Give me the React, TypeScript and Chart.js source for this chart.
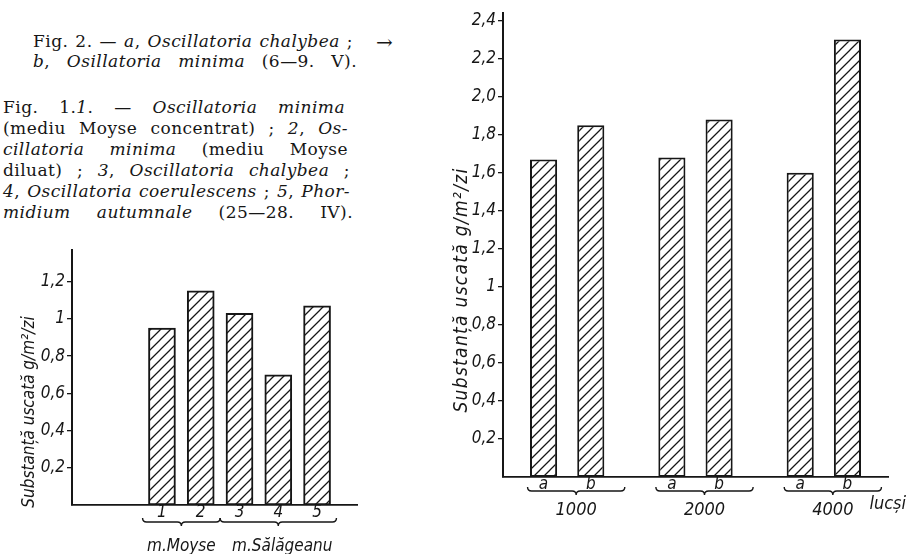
import React, { useEffect, useRef } from "react";
import { Chart, registerables } from "chart.js";

Chart.register(...registerables);

// ---------- data ----------
const leftCategories = ["1", "2", "3", "4", "5"];
const leftValues = [0.95, 1.15, 1.03, 0.7, 1.07];
const leftGroups = ["m.Moyse", "m.Sălăgeanu"];
const leftGroupSpans = [
  [1, 2],
  [3, 5],
];
const leftTicks = [0.2, 0.4, 0.6, 0.8, 1, 1.2];

const rightGroups = ["1000", "2000", "4000"];
const rightSeriesLabels = ["a", "b"];
const seriesA = [1.67, 1.68, 1.6];
const seriesB = [1.85, 1.88, 2.3];
const rightTicks = [0.2, 0.4, 0.6, 0.8, 1, 1.2, 1.4, 1.6, 1.8, 2.0, 2.2, 2.4];
const rightUnit = "lucși";
const yTitle = "Substanță uscată g/m²/zi";

// ---------- helpers ----------
const INK = "#161616";
const axisFont =
  '"Liberation Sans Narrow", "DejaVu Sans Condensed", "Roboto Condensed", sans-serif';

function fmtTick(v: number): string {
  if (v <= 0) return "";
  if (Math.abs(v - 1) < 1e-9) return "1";
  return v.toFixed(1).replace(".", ",");
}

function makeHatch(size: number): CanvasPattern | string {
  const c = document.createElement("canvas");
  c.width = size;
  c.height = size;
  const g = c.getContext("2d");
  if (!g) return "#fff";
  g.fillStyle = "#fff";
  g.fillRect(0, 0, size, size);
  g.strokeStyle = INK;
  g.lineWidth = 1.25;
  g.beginPath();
  g.moveTo(0, size);
  g.lineTo(size, 0);
  g.moveTo(-2, 2);
  g.lineTo(2, -2);
  g.moveTo(size - 2, size + 2);
  g.lineTo(size + 2, size - 2);
  g.stroke();
  return g.createPattern(c, "repeat") || "#fff";
}

function drawBrace(ctx: CanvasRenderingContext2D, x1: number, x2: number, y: number, h: number) {
  const xm = (x1 + x2) / 2;
  ctx.beginPath();
  ctx.moveTo(x1, y - h);
  ctx.quadraticCurveTo(x1, y, x1 + h, y);
  ctx.lineTo(xm - h, y);
  ctx.quadraticCurveTo(xm, y, xm, y + h);
  ctx.quadraticCurveTo(xm, y, xm + h, y);
  ctx.lineTo(x2 - h, y);
  ctx.quadraticCurveTo(x2, y, x2, y - h);
  ctx.stroke();
}

function drawVTitle(
  ctx: CanvasRenderingContext2D,
  text: string,
  x: number,
  y: number,
  font: string,
  spacing: string
) {
  ctx.save();
  ctx.translate(x, y);
  ctx.rotate(-Math.PI / 2);
  ctx.font = font;
  (ctx as any).letterSpacing = spacing;
  ctx.textAlign = "center";
  ctx.textBaseline = "middle";
  ctx.fillStyle = INK;
  ctx.fillText(text, 0, 0);
  ctx.restore();
}

// ---------- left chart ----------
function LeftChart() {
  const ref = useRef<HTMLCanvasElement>(null);
  useEffect(() => {
    const canvas = ref.current;
    if (!canvas) return;
    const hatch = makeHatch(10);
    const decor = {
      id: "leftDecor",
      afterDraw(chart: any) {
        const { ctx, chartArea, scales } = chart;
        const xs = scales.x;
        ctx.save();
        ctx.fillStyle = INK;
        ctx.strokeStyle = INK;
        ctx.font = `italic 17px ${axisFont}`;
        ctx.textAlign = "center";
        ctx.textBaseline = "middle";
        leftCategories.forEach((lab, i) => {
          ctx.fillText(lab, xs.getPixelForValue(i + 1), chartArea.bottom + 8);
        });
        ctx.lineWidth = 1.4;
        leftGroupSpans.forEach(([a, b], gi) => {
          const x1 = xs.getPixelForValue(a - 0.5);
          const x2 = xs.getPixelForValue(b + 0.5);
          drawBrace(ctx, x1, x2, chartArea.bottom + 17, 4);
          ctx.fillText(leftGroups[gi], (x1 + x2) / 2 + 4 * gi, chartArea.bottom + 42);
        });
        ctx.restore();
        drawVTitle(ctx, yTitle, 30, 182, `italic 17px ${axisFont}`, "0px");
      },
    };
    const chart = new Chart(canvas, {
      type: "bar",
      data: {
        datasets: [
          {
            data: leftValues.map((v, i) => ({ x: i + 1, y: v })),
            backgroundColor: hatch as any,
            borderColor: INK,
            borderWidth: 2,
            borderSkipped: false,
            barThickness: 27,
          },
        ],
      },
      options: {
        animation: false,
        responsive: false,
        layout: { padding: { top: 20, right: 13, left: 0, bottom: 0 } },
        plugins: { legend: { display: false }, tooltip: { enabled: false } },
        scales: {
          x: {
            type: "linear",
            offset: false,
            min: -1.32,
            max: 6.03,
            ticks: { display: false },
            grid: { display: false },
            border: { display: true, color: INK, width: 1.8 },
            afterFit: (s: any) => {
              s.height = 49;
            },
          },
          y: {
            min: 0,
            max: 1.37,
            afterBuildTicks: (s: any) => {
              s.ticks = leftTicks.map((v) => ({ value: v }));
            },
            ticks: {
              callback: (v: any) => fmtTick(Number(v)),
              color: INK,
              padding: 2,
              font: { family: axisFont, size: 17, style: "italic" },
            },
            grid: { drawOnChartArea: false, drawTicks: true, tickLength: 5, color: INK, lineWidth: 1.3 },
            border: { display: true, color: INK, width: 2 },
            afterFit: (s: any) => {
              s.width = 72;
            },
          },
        },
      },
      plugins: [decor],
    } as any);
    return () => chart.destroy();
  }, []);
  return (
    <canvas
      ref={ref}
      width={370}
      height={324}
      style={{ position: "absolute", left: 0, top: 230, width: 370, height: 324 }}
    />
  );
}

// ---------- right chart ----------
function RightChart() {
  const ref = useRef<HTMLCanvasElement>(null);
  useEffect(() => {
    const canvas = ref.current;
    if (!canvas) return;
    const hatch = makeHatch(10);
    const decor = {
      id: "rightDecor",
      afterDraw(chart: any) {
        const { ctx, chartArea } = chart;
        const metaA = chart.getDatasetMeta(0);
        const metaB = chart.getDatasetMeta(1);
        const bottom = chartArea.bottom;
        ctx.save();
        ctx.fillStyle = INK;
        ctx.strokeStyle = INK;
        ctx.textBaseline = "middle";
        ctx.lineWidth = 1.4;
        rightGroups.forEach((g, i) => {
          const ax = metaA.data[i].x;
          const bx = metaB.data[i].x;
          ctx.font = `italic 17px ${axisFont}`;
          ctx.textAlign = "center";
          ctx.fillText(rightSeriesLabels[0], ax, bottom + 8);
          ctx.fillText(rightSeriesLabels[1], bx, bottom + 8);
          const x1 = ax - 16;
          const x2 = bx + 34;
          drawBrace(ctx, x1, x2, bottom + 14, 4);
          ctx.font = `italic 18px ${axisFont}`;
          const cx = (x1 + x2) / 2;
          ctx.fillText(g, cx, bottom + 33);
          if (i === rightGroups.length - 1) {
            const w = ctx.measureText(g).width;
            ctx.textAlign = "left";
            ctx.fillText(rightUnit, cx + w / 2 + 16, bottom + 27);
          }
        });
        ctx.restore();
        drawVTitle(ctx, yTitle, 22, 290, `italic 19px ${axisFont}`, "1.3px");
      },
    };
    const chart = new Chart(canvas, {
      type: "bar",
      data: {
        labels: rightGroups,
        datasets: [
          {
            label: rightSeriesLabels[0],
            data: seriesA,
            backgroundColor: hatch as any,
            borderColor: INK,
            borderWidth: 2,
            borderSkipped: false,
            categoryPercentage: 0.736,
            barPercentage: 0.574,
          },
          {
            label: rightSeriesLabels[1],
            data: seriesB,
            backgroundColor: hatch as any,
            borderColor: INK,
            borderWidth: 2,
            borderSkipped: false,
            categoryPercentage: 0.736,
            barPercentage: 0.574,
          },
        ],
      },
      options: {
        animation: false,
        responsive: false,
        layout: { padding: { top: 13, right: 21, left: 0, bottom: 0 } },
        plugins: { legend: { display: false }, tooltip: { enabled: false } },
        scales: {
          x: {
            ticks: { display: false },
            grid: { display: false },
            border: { display: true, color: INK, width: 1.8 },
            afterFit: (s: any) => {
              s.height = 77;
            },
          },
          y: {
            min: 0,
            max: 2.44,
            afterBuildTicks: (s: any) => {
              s.ticks = rightTicks.map((v) => ({ value: v }));
            },
            ticks: {
              callback: (v: any) => fmtTick(Number(v)),
              color: INK,
              padding: 2,
              font: { family: axisFont, size: 17, style: "italic" },
            },
            grid: { drawOnChartArea: false, drawTicks: true, tickLength: 5, color: INK, lineWidth: 1.3 },
            border: { display: true, color: INK, width: 2 },
            afterFit: (s: any) => {
              s.width = 63;
            },
          },
        },
      },
      plugins: [decor],
    } as any);
    return () => chart.destroy();
  }, []);
  return (
    <canvas
      ref={ref}
      width={469}
      height={554}
      style={{ position: "absolute", left: 440, top: 0, width: 469, height: 554 }}
    />
  );
}

// ---------- text ----------
const serif = '"DejaVu Serif", "Liberation Serif", serif';

function Line({
  left,
  baseline,
  width,
  children,
}: {
  left: number;
  baseline: number;
  width: number;
  children: React.ReactNode;
}) {
  return (
    <div
      style={{
        position: "absolute",
        left,
        top: baseline - 16,
        width,
        fontFamily: serif,
        fontSize: 17,
        letterSpacing: "0.45px",
        lineHeight: "20px",
        color: INK,
        textAlign: "justify",
        textAlignLast: "justify",
        whiteSpace: "normal",
      }}
    >
      {children}
    </div>
  );
}

export default function App() {
  return (
    <div
      style={{
        position: "fixed",
        left: 0,
        top: 0,
        width: 909,
        height: 554,
        background: "#fff",
        overflow: "hidden",
      }}
    >
      <Line left={33} baseline={47} width={320}>
        Fig. 2. — <i>a</i>, <i>Oscillatoria chalybea</i> ;
      </Line>
      <Line left={33} baseline={67} width={324}>
        <i>b</i>, <i>Osillatoria minima</i> (6—9. V).
      </Line>
      <div
        style={{
          position: "absolute",
          left: 376,
          top: 32,
          fontFamily: serif,
          fontSize: 20,
          lineHeight: "20px",
          color: INK,
        }}
      >
        →
      </div>

      <Line left={3} baseline={113} width={342}>
        Fig. 1.<i>1</i>. — <i>Oscillatoria minima</i>
      </Line>
      <Line left={3} baseline={134} width={345}>
        (mediu Moyse concentrat) ; <i>2</i>, <i>Os-</i>
      </Line>
      <Line left={3} baseline={155} width={345}>
        <i>cillatoria minima</i> (mediu Moyse
      </Line>
      <Line left={3} baseline={176} width={347}>
        diluat) ; <i>3</i>, <i>Oscillatoria chalybea</i> ;
      </Line>
      <Line left={3} baseline={197} width={347}>
        <i>4</i>, <i>Oscillatoria coerulescens</i> ; <i>5</i>, <i>Phor-</i>
      </Line>
      <Line left={3} baseline={218} width={350}>
        <i>midium autumnale</i> (25—28. IV).
      </Line>

      <LeftChart />
      <RightChart />
    </div>
  );
}
